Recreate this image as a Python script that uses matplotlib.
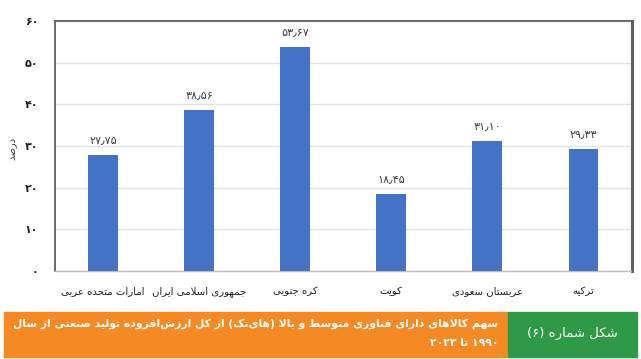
import matplotlib
matplotlib.use("Agg")
from matplotlib import pyplot as plt
from matplotlib.patches import Rectangle

COUNTRIES = [
    "امارات متحده عربی",
    "جمهوری اسلامی ایران",
    "کره جنوبی",
    "کویت",
    "عربستان سعودی",
    "ترکیه",
]
SHARES = [27.75, 38.56, 53.67, 18.45, 31.10, 29.33]
Y_TICKS = [0, 10, 20, 30, 40, 50, 60]
Y_LABEL = "درصد"
CAPTION_LINES = [
    "سهم کالاهای دارای فناوری متوسط و بالا (های\u200cتک) از کل ارزش\u200cافزوده تولید صنعتی از سال",
    "۱۹۹۰ تا ۲۰۲۳",
]
FIGURE_LABEL = "شکل شماره (۶)"

BAR_COLOR = "#4472C4"
ORANGE = "#F58A25"
GREEN = "#2E9A48"

# minimal arabic/persian shaping (matplotlib has no complex text layout)
# dual joining letters: (isolated, final, initial, medial)
DUAL = {
    0x0628: (0xFE8F, 0xFE90, 0xFE91, 0xFE92),
    0x067E: (0xFB56, 0xFB57, 0xFB58, 0xFB59),
    0x062A: (0xFE95, 0xFE96, 0xFE97, 0xFE98),
    0x062B: (0xFE99, 0xFE9A, 0xFE9B, 0xFE9C),
    0x062C: (0xFE9D, 0xFE9E, 0xFE9F, 0xFEA0),
    0x0686: (0xFB7A, 0xFB7B, 0xFB7C, 0xFB7D),
    0x062D: (0xFEA1, 0xFEA2, 0xFEA3, 0xFEA4),
    0x062E: (0xFEA5, 0xFEA6, 0xFEA7, 0xFEA8),
    0x0633: (0xFEB1, 0xFEB2, 0xFEB3, 0xFEB4),
    0x0634: (0xFEB5, 0xFEB6, 0xFEB7, 0xFEB8),
    0x0635: (0xFEB9, 0xFEBA, 0xFEBB, 0xFEBC),
    0x0636: (0xFEBD, 0xFEBE, 0xFEBF, 0xFEC0),
    0x0637: (0xFEC1, 0xFEC2, 0xFEC3, 0xFEC4),
    0x0638: (0xFEC5, 0xFEC6, 0xFEC7, 0xFEC8),
    0x0639: (0xFEC9, 0xFECA, 0xFECB, 0xFECC),
    0x063A: (0xFECD, 0xFECE, 0xFECF, 0xFED0),
    0x0641: (0xFED1, 0xFED2, 0xFED3, 0xFED4),
    0x0642: (0xFED5, 0xFED6, 0xFED7, 0xFED8),
    0x06A9: (0xFB8E, 0xFB8F, 0xFB90, 0xFB91),
    0x06AF: (0xFB92, 0xFB93, 0xFB94, 0xFB95),
    0x0644: (0xFEDD, 0xFEDE, 0xFEDF, 0xFEE0),
    0x0645: (0xFEE1, 0xFEE2, 0xFEE3, 0xFEE4),
    0x0646: (0xFEE5, 0xFEE6, 0xFEE7, 0xFEE8),
    0x0647: (0xFEE9, 0xFEEA, 0xFEEB, 0xFEEC),
    0x06CC: (0xFBFC, 0xFBFD, 0xFBFE, 0xFBFF),
}
# right joining letters: (isolated, final)
RIGHT = {
    0x0627: (0xFE8D, 0xFE8E),
    0x0622: (0xFE81, 0xFE82),
    0x062F: (0xFEA9, 0xFEAA),
    0x0630: (0xFEAB, 0xFEAC),
    0x0631: (0xFEAD, 0xFEAE),
    0x0632: (0xFEAF, 0xFEB0),
    0x0698: (0xFB8A, 0xFB8B),
    0x0648: (0xFEED, 0xFEEE),
}
LTR_CHARS = set("۰۱۲۳۴۵۶۷۸۹٫0123456789")
MIRROR = {"(": ")", ")": "("}
FA_DIGITS = str.maketrans("0123456789.", "۰۱۲۳۴۵۶۷۸۹٫")


def shape(text):
    """Replaces letters with their contextual presentation forms."""
    codes = [ord(c) for c in text]
    out = []
    i = 0
    while i < len(codes):
        c = codes[i]
        prev = codes[i - 1] if i > 0 else None
        nxt = codes[i + 1] if i + 1 < len(codes) else None
        joins_prev = prev in DUAL and (c in DUAL or c in RIGHT)
        if c == 0x0644 and nxt == 0x0627:
            out.append(chr(0xFEFC if joins_prev else 0xFEFB))
            i += 2
            continue
        if c in DUAL:
            joins_next = nxt in DUAL or nxt in RIGHT
            out.append(chr(DUAL[c][int(joins_prev) + 2 * int(joins_next)]))
        elif c in RIGHT:
            out.append(chr(RIGHT[c][int(joins_prev)]))
        elif c != 0x200C:
            out.append(chr(c))
        i += 1
    return out


def fa(text):
    """Shapes and reorders RTL text for left-to-right drawing."""
    rev = shape(text)[::-1]
    out = []
    run = []
    for ch in rev:
        if ch in LTR_CHARS:
            run.append(ch)
        else:
            out.extend(run[::-1])
            run = []
            out.append(MIRROR.get(ch, ch))
    out.extend(run[::-1])
    return "".join(out)


def fa_num(value, fmt):
    return fmt.format(value).translate(FA_DIGITS)


plt.rcParams["font.family"] = ["DejaVu Sans"]

W, H = 641, 359
fig = plt.figure(figsize=(W / 100, H / 100), dpi=100)

ax_left, ax_right, ax_top, ax_bottom = 55, 631.5, 21, 271
ax = fig.add_axes([ax_left / W, 1 - ax_bottom / H,
                   (ax_right - ax_left) / W, (ax_bottom - ax_top) / H])

x = list(range(len(COUNTRIES)))
bars = ax.bar(x, SHARES, width=0.31, color=BAR_COLOR, zorder=3)
for rect, val in zip(bars, SHARES):
    ax.text(rect.get_x() + rect.get_width() / 2, val + 2.4, fa_num(val, "{:.2f}"),
            ha="center", va="bottom", fontsize=8, color="#404040")

ax.set_xlim(-0.5, len(COUNTRIES) - 0.5)
ax.set_ylim(0, 60)
ax.set_yticks(Y_TICKS, labels=[fa_num(t, "{:d}") for t in Y_TICKS],
              fontsize=8, fontweight="bold", color="#222222")
ax.set_xticks(x, labels=[fa(c) for c in COUNTRIES], fontsize=7.3, color="#222222")
ax.tick_params(axis="y", length=0, pad=12)
ax.tick_params(axis="x", length=0, pad=11)
ax.set_ylabel(fa(Y_LABEL), fontsize=7.3, color="#404040")
ax.yaxis.set_label_coords(-(ax_left - 17) / (ax_right - ax_left), 0.49)
ax.yaxis.grid(True, color="#E3E3E3", linewidth=1, zorder=0)
ax.set_axisbelow(True)
for side in ["top", "right", "left"]:
    ax.spines[side].set_color("#5F5F5F")
    ax.spines[side].set_linewidth(1.3)
ax.spines["right"].set_linewidth(2.2)
ax.spines["bottom"].set_color("#BFBFBF")
ax.spines["bottom"].set_linewidth(1)

# caption bar
cap_top, cap_bottom = 312, 357
orange_x0, split_x, green_x1 = 4, 508, 637
fig.patches.append(Rectangle((orange_x0 / W, 1 - cap_bottom / H),
                             (split_x - orange_x0) / W, (cap_bottom - cap_top) / H,
                             transform=fig.transFigure, color=ORANGE, zorder=0))
fig.patches.append(Rectangle((split_x / W, 1 - cap_bottom / H),
                             (green_x1 - split_x) / W, (cap_bottom - cap_top) / H,
                             transform=fig.transFigure, color=GREEN, zorder=0))
fig.text(498 / W, 1 - 324 / H, fa(CAPTION_LINES[0]), ha="right", va="center",
         fontsize=7.8, fontweight="bold", color="white")
fig.text(498 / W, 1 - 343 / H, fa(CAPTION_LINES[1]), ha="right", va="center",
         fontsize=7.8, fontweight="bold", color="white")
fig.text((split_x + green_x1) / 2 / W, 1 - 333 / H, fa(FIGURE_LABEL),
         ha="center", va="center", fontsize=9.5, color="white")

fig.savefig("out.png", dpi=100)
